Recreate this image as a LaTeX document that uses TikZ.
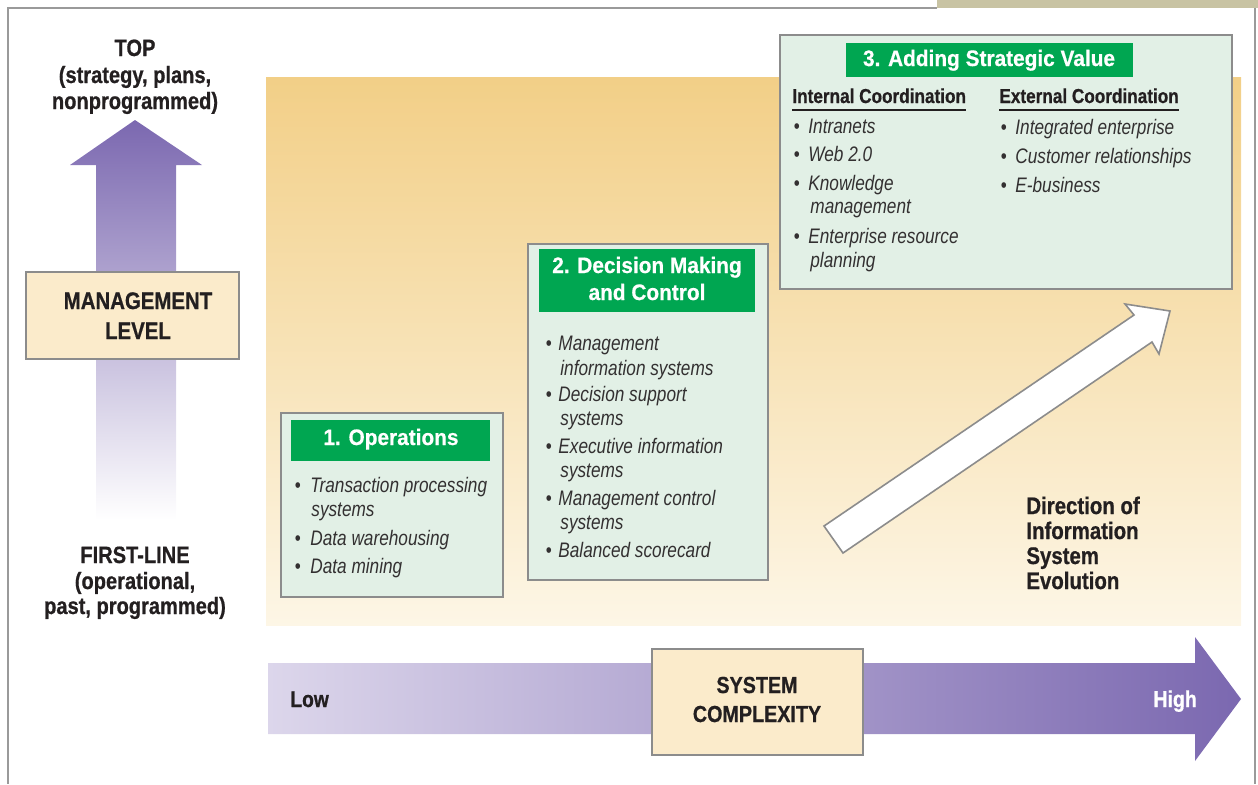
\documentclass[tikz,border=0pt]{standalone}
\usepackage{fontspec}
\setmainfont{Liberation Sans}
\newfontfamily\lblf{Liberation Sans}[FakeStretch=0.85,FakeBold=0.7]
\newfontfamily\hdrf{Liberation Sans}[FakeStretch=0.93,FakeBold=0.5]
\newfontfamily\itmf{Liberation Sans}[FakeStretch=0.82]
\newcommand\setfs[1]{\fontsize{#1}{#1}\selectfont}
\definecolor{frameg}{HTML}{9A9A9A}
\definecolor{boxg}{HTML}{8C8C8C}
\definecolor{grn}{HTML}{00A651}
\definecolor{mint}{HTML}{E2F0E6}
\definecolor{cream}{HTML}{FBEBCB}
\definecolor{purp}{HTML}{7B68B0}
\definecolor{lav}{HTML}{DCD6EB}
\definecolor{orgtop}{HTML}{F2CF87}
\definecolor{orgbot}{HTML}{FDF6E6}
\definecolor{tanbar}{HTML}{C8C3A3}
\definecolor{ink}{HTML}{231F20}
\definecolor{itink}{HTML}{333031}
\tikzset{
  lbl/.style={font={\lblf\bfseries\setfs{#1}}, text=ink, inner sep=0pt, anchor=base},
  lbl/.default=11.8,
  hdr/.style={font={\hdrf\bfseries\setfs{11.2}}, text=white, inner sep=0pt, anchor=base},
  itm/.style={font={\itmf\itshape\setfs{10.5}}, text=itink, inner sep=0pt, anchor=base west},
  bul/.style={font={\itmf\setfs{10.5}}, text=itink, inner sep=0pt, anchor=base},
  panel/.style={draw=boxg, line width=1pt, fill=mint, inner sep=0pt, anchor=north west},
  cbox/.style={draw=boxg, line width=1.1pt, fill=cream, inner sep=0pt, anchor=north west},
  ghead/.style={fill=grn, inner sep=0pt, anchor=north west},
}
\begin{document}
\begin{tikzpicture}[x=0.5pt,y=-0.5pt]
\useasboundingbox (0,0) rectangle (1258,784);
% frame
\fill[tanbar] (937,0) rectangle (1258,7.5);
\draw[frameg, line width=0.6pt] (937,8) -- (8,8) -- (8,784);
\draw[frameg, line width=0.6pt] (1255,8) -- (1255,784);
% orange background
\shade[top color=orgtop, bottom color=orgbot] (266,77) rectangle (1241,625);
% left vertical arrow
\shade[top color=purp, bottom color=white] (96,520) -- (96,165) -- (70,165) -- (135,120) -- (202,165) -- (176,165) -- (176,520) -- cycle;
% top / first-line labels
\node[lbl] (top1) at (135,56) {TOP};
\node[lbl] (top2) at (135,83) {(strategy, plans,};
\node[lbl] (top3) at (135,109) {nonprogrammed)};
\node[lbl] (fl1) at (135,563) {FIRST-LINE};
\node[lbl] (fl2) at (135,589) {(operational,};
\node[lbl] (fl3) at (135,614) {past, programmed)};
% management level box
\node[cbox, minimum width=106.5pt, minimum height=43.5pt] (mgmt) at (25,271) {};
\node[lbl={12}] (mg1) at (138,309) {MANAGEMENT};
\node[lbl={12}] (mg2) at (138,339) {LEVEL};
% bottom horizontal arrow
\shade[left color=lav, right color=purp] (268,663) -- (1195,663) -- (1195,637) -- (1241,699) -- (1195,761) -- (1195,734) -- (268,734) -- cycle;
\node[cbox, minimum width=105.5pt, minimum height=53pt] (sc) at (651,648) {};
\node[lbl={11.6}] (sc1) at (757,693) {SYSTEM};
\node[lbl={11.6}] (sc2) at (757,722) {COMPLEXITY};
\node[lbl={11.3}, anchor=base west] (low) at (290,707) {Low};
\node[lbl={11.5}, anchor=base west, text=white] (high) at (1153,707) {High};
% diagonal arrow
\draw[draw=boxg, fill=white, line width=0.8pt, line join=miter] (824,526) -- (1134,315) -- (1125,304) -- (1170,311) -- (1159,354) -- (1152,342) -- (843,553) -- cycle;
\node[lbl={12}, anchor=base west] (d1) at (1026,514) {Direction of};
\node[lbl={12}, anchor=base west] (d2) at (1026,539) {Information};
\node[lbl={12}, anchor=base west] (d3) at (1026,564) {System};
\node[lbl={12}, anchor=base west] (d4) at (1026,589) {Evolution};
% box 1
\node[panel, minimum width=111pt, minimum height=92pt] (box1) at (280,412) {};
\node[ghead, minimum width=99.5pt, minimum height=20.5pt] (h1) at (291,420) {};
\node[hdr] (h1t) at (391,445) {1. Operations};
\node[bul] (b11) at (298,492) {\textbullet};
\node[itm] (t11) at (310,492) {Transaction processing};
\node[itm] (t11b) at (311,516) {systems};
\node[bul] (b12) at (298,545) {\textbullet};
\node[itm] (t12) at (310,545) {Data warehousing};
\node[bul] (b13) at (298,573) {\textbullet};
\node[itm] (t13) at (310,573) {Data mining};
% box 2
\node[panel, minimum width=120pt, minimum height=168pt] (box2) at (527,243) {};
\node[ghead, minimum width=108pt, minimum height=31.5pt] (h2) at (539,249) {};
\node[hdr] (h2t) at (647,273) {2. Decision Making};
\node[hdr] (h2u) at (647,300) {and Control};
\node[bul] (b21) at (549,350) {\textbullet};
\node[itm] (t21) at (558,350) {Management};
\node[itm] (t21b) at (560,375) {information systems};
\node[bul] (b22) at (549,401) {\textbullet};
\node[itm] (t22) at (558,401) {Decision support};
\node[itm] (t22b) at (560,425) {systems};
\node[bul] (b23) at (549,453) {\textbullet};
\node[itm] (t23) at (558,453) {Executive information};
\node[itm] (t23b) at (560,477) {systems};
\node[bul] (b24) at (549,505) {\textbullet};
\node[itm] (t24) at (558,505) {Management control};
\node[itm] (t24b) at (560,529) {systems};
\node[bul] (b25) at (549,557) {\textbullet};
\node[itm] (t25) at (558,557) {Balanced scorecard};
% box 3
\node[panel, minimum width=226pt, minimum height=127pt] (box3) at (779,34) {};
\node[ghead, minimum width=143.5pt, minimum height=17pt] (h3) at (846,43) {};
\node[hdr] (h3t) at (989,66) {3. Adding Strategic Value};
\node[lbl={10.1}, anchor=base west] (ic) at (792,103) {Internal Coordination};
\node[lbl={10.1}, anchor=base west] (ec) at (999,103) {External Coordination};
\draw[ink, line width=1.2pt] ([yshift=-3.6pt]ic.base west) -- ([yshift=-3.6pt]ic.base east);
\draw[ink, line width=1.2pt] ([yshift=-3.6pt]ec.base west) -- ([yshift=-3.6pt]ec.base east);
\node[bul] (b31) at (797,133) {\textbullet};
\node[itm] (t31) at (808,133) {Intranets};
\node[bul] (b32) at (797,161) {\textbullet};
\node[itm] (t32) at (808,161) {Web 2.0};
\node[bul] (b33) at (797,190) {\textbullet};
\node[itm] (t33) at (808,190) {Knowledge};
\node[itm] (t33b) at (810,213) {management};
\node[bul] (b34) at (797,243) {\textbullet};
\node[itm] (t34) at (808,243) {Enterprise resource};
\node[itm] (t34b) at (810,267) {planning};
\node[bul] (b41) at (1004,134) {\textbullet};
\node[itm] (t41) at (1015,134) {Integrated enterprise};
\node[bul] (b42) at (1004,163) {\textbullet};
\node[itm] (t42) at (1015,163) {Customer relationships};
\node[bul] (b43) at (1004,192) {\textbullet};
\node[itm] (t43) at (1015,192) {E-business};
\end{tikzpicture}
\end{document}
